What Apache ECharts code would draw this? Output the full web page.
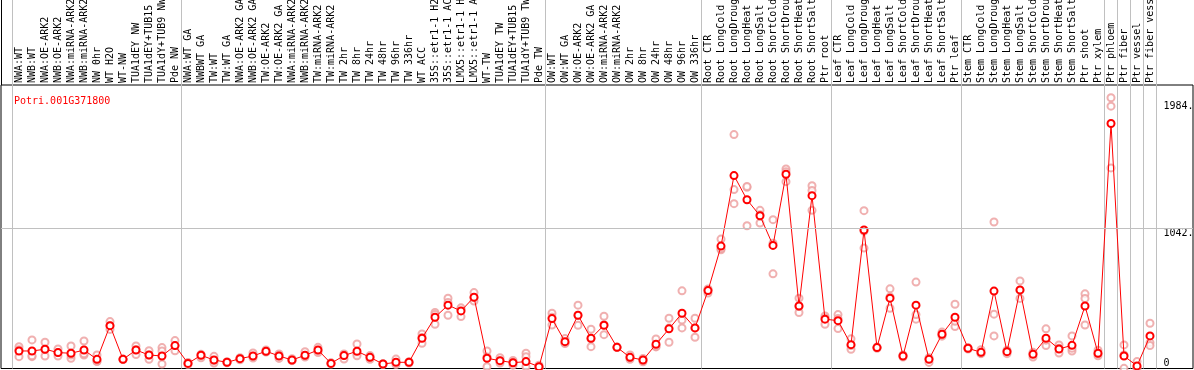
<!DOCTYPE html>
<html>
<head>
<meta charset="utf-8">
<script src="https://cdn.jsdelivr.net/npm/echarts@6/dist/echarts.min.js"></script>
<style>
  html,body{margin:0;padding:0;background:#fff;}
  #chart{width:1194px;height:370px;}
</style>
</head>
<body>
<div id="chart"></div>
<script>
// gene / samples
var geneId = 'Potri.001G371800';
var samples = ['NWA:WT','NWB:WT','NWA:OE-ARK2','NWB:OE-ARK2','NWA:miRNA-ARK2','NWB:miRNA-ARK2','NW 0hr','WT H2O','WT-NW','TUA1dEY NW','TUA1dEY+TUB15 NW','TUA1dY+TUB9 NW','Pde NW',
  'NWA:WT GA','NWBWT GA','TW:WT','TW:WT GA','NWA:OE-ARK2 GA','NWB:OE-ARK2 GA','TW:OE-ARK2','TW:OE-ARK2 GA','NWA:miRNA-ARK2','NWB:miRNA-ARK2','TW:miRNA-ARK2','TW:miRNA-ARK2',
  'TW 2hr','TW 8hr','TW 24hr','TW 48hr','TW 96hr','TW 336hr','WT ACC','35S::etr1-1 H2O','35S::etr1-1 ACC','LMX5::etr1-1 H2O','LMX5::etr1-1 ACC','WT-TW','TUA1dEY TW','TUA1dEY+TUB15 TW','TUA1dY+TUB9 TW','Pde TW',
  'OW:WT','OW:WT GA','OW:OE-ARK2','OW:OE-ARK2 GA','OW:miRNA-ARK2','OW:miRNA-ARK2','OW 2hr','OW 8hr','OW 24hr','OW 48hr','OW 96hr','OW 336hr',
  'Root CTR','Root LongCold','Root LongDrought','Root LongHeat','Root LongSalt','Root ShortCold','Root ShortDrought','Root ShortHeat','Root ShortSalt','Ptr root',
  'Leaf CTR','Leaf LongCold','Leaf LongDrought','Leaf LongHeat','Leaf LongSalt','Leaf ShortCold','Leaf ShortDrought','Leaf ShortHeat','Leaf ShortSalt','Ptr leaf',
  'Stem CTR','Stem LongCold','Stem LongDrought','Stem LongHeat','Stem LongSalt','Stem ShortCold','Stem ShortDrought','Stem ShortHeat','Stem ShortSalt','Ptr shoot','Ptr xylem',
  'Ptr phloem','Ptr fiber','Ptr vessel','Ptr fiber vessel'];
// index of first sample of each experiment group (gray separators)
var groupStarts = [0,13,41,53,63,73,84,85,86,87];

// mean expression (line)
var meanVals = [130,130,143,118,113,137,68,318,68,137,100,93,170,
  38,98,63,46,73,93,128,93,63,98,137,38,96,128,83,33,46,46,224,380,470,427,529,76,58,43,51,13,
  370,199,395,224,321,157,83,63,180,294,410,301,
  578,908,1431,1252,1133,913,1441,464,1282,366,
  355,177,1027,155,522,93,470,68,254,380,
  150,120,574,125,583,105,224,145,172,464,113,
  1817,93,19,242];
// replicates (pink circles)
var repVals = [[162,88,140],[212,88,95],[195,93,140],[145,93,118],[167,76,100],[204,100,110],[100,51,55],[348,290,318],[68,70,66],[167,104,140],[132,68,100],[155,130,33],[207,132,170],
  [45,30,40],[105,80,100],[90,40,60],[50,45,43],[80,65,75],[115,78,90],[137,125,122],[108,75,95],[72,60,58],[124,85,95],[157,118,135],[33,40,42],[108,70,100],[182,110,95],[96,68,85],[35,30,33],[70,45,30],
  [50,40,46],[256,187,230],[415,328,400],[522,395,490],[440,385,450],[563,500,525],[130,13,85],[80,40,55],[60,25,45],[113,88,13],[25,5,10],
  [410,323,380],[222,185,190],[470,321,395],[291,162,220],[388,251,325],[160,155,157],[100,68,80],[75,50,63],[219,160,165],[373,195,300],[576,360,301],[373,232,300],
  [560,590,585],[960,880,890],[1735,1327,1223],[1344,1350,1059],[1173,1079,1140],[1104,702,930],[1480,1386,1460],[522,415,460],[1356,1173,1320],[390,328,375],
  [400,296,370],[220,143,170],[1171,893,1020],[160,150,155],[591,447,530],[100,85,95],[641,366,400],[70,45,80],[270,240,250],[477,311,350],
  [155,145,150],[140,110,112],[1087,403,242],[135,110,128],[650,520,580],[120,85,110],[294,170,210],[175,115,150],[242,130,150],[554,520,323],[135,95,110],
  [2008,1946,1488],[175,1,100],[51,10,0],[336,192,170]];
// right axis labels
var yTicks = [1984, 1042];
var yZero = [0];
var yMax = 2103;
var refLine = 1042;

var mono = "'DejaVu Sans Mono', monospace";
var grayCol = '#c0c0c0';

var repData = [];
repVals.forEach(function(r, i){ r.forEach(function(v){ repData.push([i, v]); }); });

var sepInterval = function(idx){ return groupStarts.indexOf(idx) >= 0; };

var myChart = echarts.init(document.getElementById('chart'), null, {renderer: 'canvas'});
var option = {
  animation: false,
  title: { text: geneId, left: 9, top: 91, textStyle: { color: '#ff0000', fontSize: 10, fontFamily: mono, fontWeight: 'normal' } },
  grid: [
    { left: 12.5, right: 37.5, top: 85, bottom: 1.5, outerBoundsMode: 'none', containLabel: false },   // plot
    { left: 12.5, right: 37.5, top: 0, height: 85, outerBoundsMode: 'none', containLabel: false },     // label strip (separators go up)
    { left: 1, right: 1, top: 85, bottom: 1.5, outerBoundsMode: 'none', containLabel: false,
      show: true, borderColor: '#000', borderWidth: 1, backgroundColor: 'transparent' }                 // frame
  ],
  xAxis: [
    { type: 'category', gridIndex: 0, position: 'top', data: samples, boundaryGap: true,
      axisLine: { show: false }, axisTick: { show: false },
      axisLabel: { interval: 0, rotate: 90, margin: 2, fontSize: 10, fontFamily: mono, color: '#000', hideOverlap: false },
      splitLine: { show: true, interval: sepInterval, lineStyle: { color: grayCol, width: 1 } } },
    { type: 'category', gridIndex: 1, data: samples, boundaryGap: true,
      axisLine: { show: false }, axisTick: { show: false }, axisLabel: { show: false },
      splitLine: { show: true, interval: sepInterval, lineStyle: { color: grayCol, width: 1 } } },
    { type: 'value', gridIndex: 2, min: 0, max: 1, show: false }
  ],
  yAxis: [
    { type: 'value', gridIndex: 0, position: 'right', min: 0, max: yMax,
      axisLine: { show: false }, axisTick: { show: false }, splitLine: { show: false },
      axisLabel: { customValues: yTicks, margin: 7, fontSize: 10, fontFamily: mono, color: '#000', verticalAlign: 'top',
        formatter: function(v){ return v + '.'; } } },
    { type: 'value', gridIndex: 0, position: 'right', min: 0, max: yMax,
      axisLine: { show: false }, axisTick: { show: false }, splitLine: { show: false },
      axisLabel: { customValues: yZero, margin: 7, fontSize: 10, fontFamily: mono, color: '#000', verticalAlign: 'bottom' } },
    { type: 'value', gridIndex: 1, show: false },
    { type: 'value', gridIndex: 2, min: 0, max: yMax, show: false }
  ],
  series: [
    { type: 'line', xAxisIndex: 2, yAxisIndex: 3, data: [], silent: true,
      markLine: { silent: true, symbol: 'none', label: { show: false },
        lineStyle: { color: grayCol, type: 'solid', width: 1 }, data: [{ yAxis: refLine }] } },
    { name: 'rep', type: 'scatter', xAxisIndex: 0, yAxisIndex: 0, data: repData, symbol: 'emptyCircle', symbolSize: 7,
      itemStyle: { color: '#ec9c9c', borderColor: '#ec9c9c', borderWidth: 1 }, z: 2 },
    { name: 'mean', type: 'line', xAxisIndex: 0, yAxisIndex: 0, data: meanVals, symbol: 'emptyCircle', symbolSize: 7,
      showAllSymbol: true,
      lineStyle: { color: '#ff0000', width: 1 }, itemStyle: { color: '#ff0000', borderColor: '#ff0000', borderWidth: 1.5 }, z: 3 }
  ],
  graphic: [
    { type: 'line', shape: { x1: 1.5, y1: 0, x2: 1.5, y2: 85 }, style: { stroke: '#000', lineWidth: 1 } }
  ]
};
myChart.setOption(option);
window.onresize = myChart.resize;
</script>
</body>
</html>
